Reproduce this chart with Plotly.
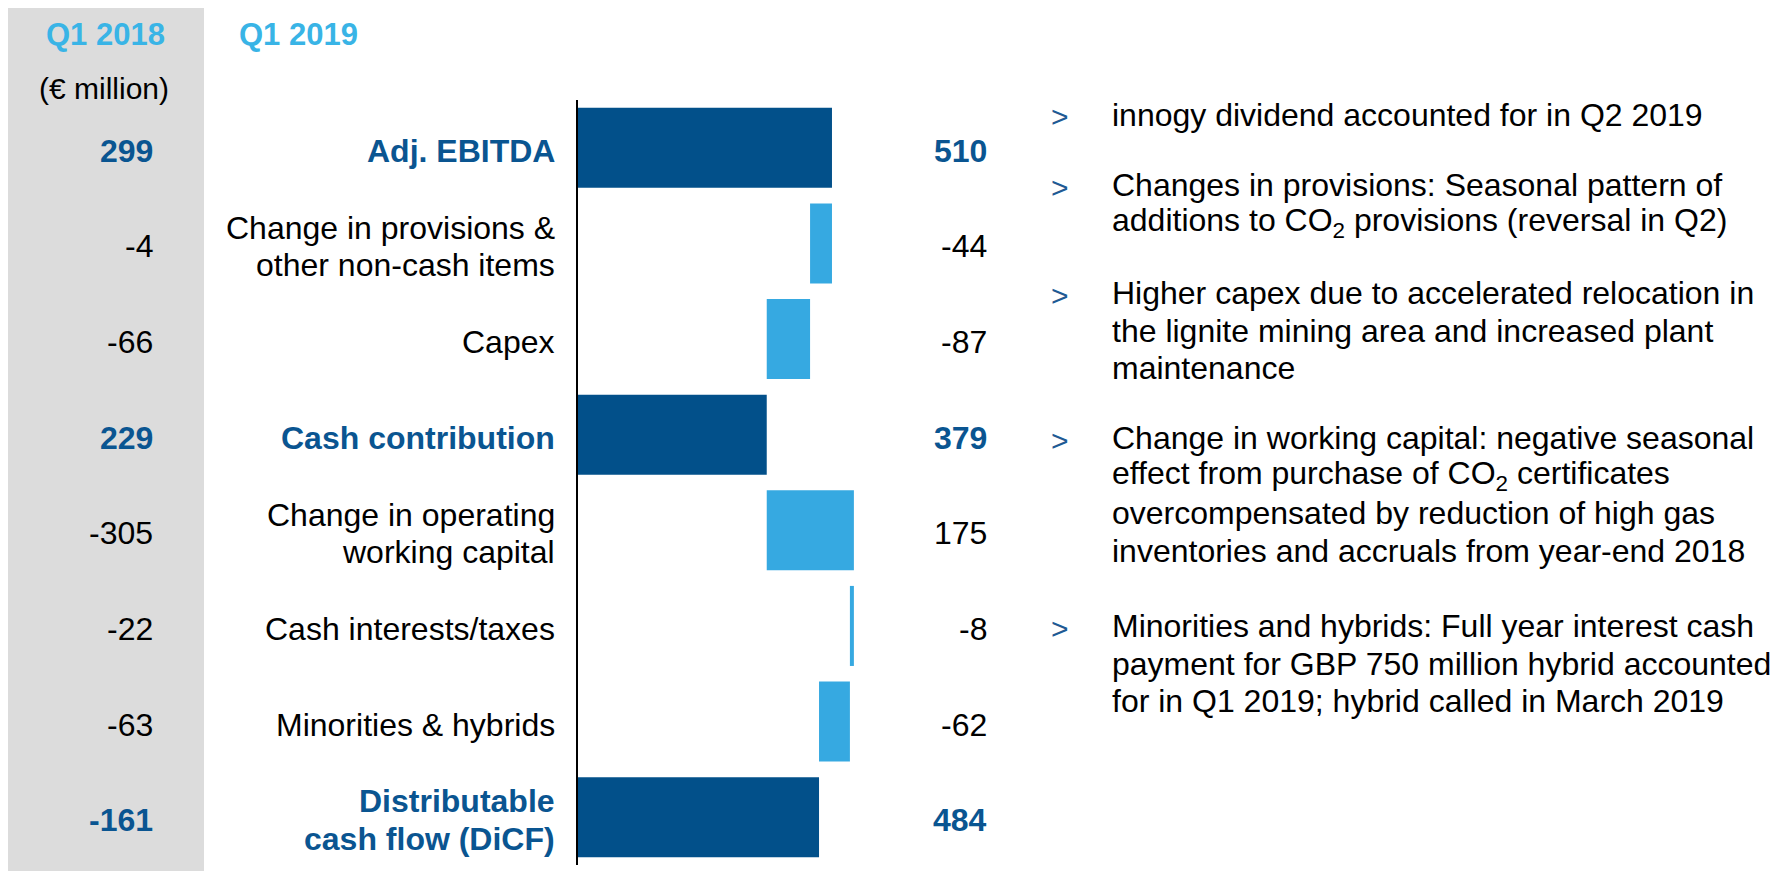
import plotly.graph_objects as go

# ---------------- data ----------------
categories = [
    "Adj. EBITDA",
    "Change in provisions &\nother non-cash items",
    "Capex",
    "Cash contribution",
    "Change in operating\nworking capital",
    "Cash interests/taxes",
    "Minorities & hybrids",
    "Distributable\ncash flow (DiCF)",
]
q1_2018 = [299, -4, -66, 229, -305, -22, -63, -161]
q1_2019 = [510, -44, -87, 379, 175, -8, -62, 484]
measures = ["absolute", "relative", "relative", "total",
            "relative", "relative", "relative", "total"]
header_left = "Q1 2018"
header_right = "Q1 2019"
unit_label = "(€ million)"

bullets = [
    ["innogy dividend accounted for in Q2 2019"],
    ["Changes in provisions: Seasonal pattern of",
     "additions to CO<sub>2</sub> provisions (reversal in Q2)"],
    ["Higher capex due to accelerated relocation in",
     "the lignite mining area and increased plant",
     "maintenance"],
    ["Change in working capital: negative seasonal",
     "effect from purchase of CO<sub>2</sub> certificates",
     "overcompensated by reduction of high gas",
     "inventories and accruals from year-end 2018"],
    ["Minorities and hybrids: Full year interest cash",
     "payment for GBP 750 million hybrid accounted",
     "for in Q1 2019; hybrid called in March 2019"],
]

# ---------------- style ----------------
PAGE_W, PAGE_H = 1784, 879
OFF = 8  # default body margin of the page
W, H = PAGE_W - 2 * OFF, PAGE_H - 2 * OFF
FONT = "Liberation Sans, Arial, sans-serif"
FS = 32
DARK = "#02508A"
DARK_TXT = "#0A5591"
LIGHT = "#36A9E1"
HEAD = "#39B4E6"
GRAY = "#DCDCDC"
LINE_PITCH = 37.5


def px(x):
    return (x - OFF) / W


def py(y):
    return 1 - (y - OFF) / H


is_total = [m != "relative" for m in measures]

fig = go.Figure()
fig.add_trace(go.Waterfall(
    orientation="h",
    y=categories,
    x=q1_2019,
    measure=measures,
    connector=dict(visible=False),
    increasing=dict(marker=dict(color=LIGHT)),
    decreasing=dict(marker=dict(color=LIGHT)),
    totals=dict(marker=dict(color=DARK)),
    hoverinfo="skip",
    showlegend=False,
))

annotations = []


def add_label(text, x, y, color, bold, xanchor="right"):
    lines = text.split("\n")
    n = len(lines)
    for i, ln in enumerate(lines):
        t = f"<b>{ln}</b>" if bold else ln
        annotations.append(dict(
            text=t, x=x, y=y, xref="paper", yref="y",
            xanchor=xanchor, yanchor="middle", showarrow=False,
            yshift=-((i - (n - 1) / 2) * LINE_PITCH) - 3,
            font=dict(family=FONT, size=FS, color=color),
        ))


for cat, v18, v19, tot in zip(categories, q1_2018, q1_2019, is_total):
    col = DARK_TXT if tot else "#000000"
    add_label(str(v18), px(155), cat, col, tot)
    add_label(cat, px(557), cat, col, tot)
    add_label(str(v19), px(989), cat, col, tot)

# headers
annotations.append(dict(text=f"<b>{header_left}</b>", x=px(105), y=py(35),
                        xref="paper", yref="paper", xanchor="center",
                        yanchor="middle", showarrow=False,
                        font=dict(family=FONT, size=FS - 1, color=HEAD)))
annotations.append(dict(text=f"<b>{header_right}</b>", x=px(237), y=py(35),
                        xref="paper", yref="paper", xanchor="left",
                        yanchor="middle", showarrow=False,
                        font=dict(family=FONT, size=FS - 1, color=HEAD)))
annotations.append(dict(text=unit_label, x=px(104), y=py(89),
                        xref="paper", yref="paper", xanchor="center",
                        yanchor="middle", showarrow=False,
                        font=dict(family=FONT, size=FS - 2, color="#000000")))

# bullet text on the right
bullet_first_y = [115, 185, 293, 438, 626]
for lines, y0 in zip(bullets, bullet_first_y):
    annotations.append(dict(text=">", x=px(1049), y=py(y0 + 2),
                            xref="paper", yref="paper", xanchor="left",
                            yanchor="middle", showarrow=False,
                            font=dict(family=FONT, size=30, color="#1F5A94")))
    for i, ln in enumerate(lines):
        annotations.append(dict(text=ln, x=px(1110), y=py(y0 + i * LINE_PITCH),
                                xref="paper", yref="paper", xanchor="left",
                                yanchor="middle", showarrow=False,
                                font=dict(family=FONT, size=FS, color="#000000")))

fig.update_layout(
    width=W, height=H,
    margin=dict(l=0, r=0, t=0, b=0),
    paper_bgcolor="white", plot_bgcolor="white",
    waterfallgap=0.163,
    xaxis=dict(domain=[px(578), px(1000)], range=[0, (1000 - 578) / 0.498],
               showgrid=False, zeroline=False, showticklabels=False,
               showline=False, ticks=""),
    yaxis=dict(domain=[py(865), py(100)], type="category",
               autorange="reversed", showgrid=False, zeroline=False,
               showticklabels=False, ticks="", showline=True,
               linecolor="#000000", linewidth=2),
    shapes=[dict(type="rect", xref="paper", yref="paper",
                 x0=0, x1=px(204), y0=0, y1=1,
                 fillcolor=GRAY, line=dict(width=0), layer="below")],
    annotations=annotations,
)

fig.write_html("out.html")
